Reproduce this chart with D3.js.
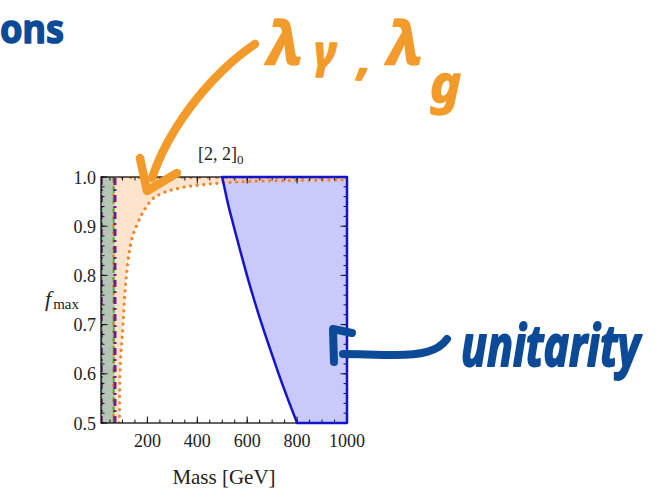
<!DOCTYPE html>
<html>
<head>
<meta charset="utf-8">
<script src="https://cdn.jsdelivr.net/npm/d3@7"></script>
<style>
  html, body { margin: 0; padding: 0; background: #ffffff; }
  svg { display: block; }
</style>
</head>
<body>
<svg id="chart" width="658" height="494"></svg>
<script>
// ---- data ----
const panelTitle = "[2, 2]";
const panelTitleSub = "0";
const xTickValues = [200, 400, 600, 800, 1000];
const yTickValues = [0.5, 0.6, 0.7, 0.8, 0.9, 1.0];

// unitarity bound: f_max vs mass (excluded to the right)
const unitarityMass = [500, 521, 546, 572, 599, 628, 659, 692, 726, 762, 800];
const unitarityF    = [1.0, 0.95, 0.90, 0.85, 0.80, 0.75, 0.70, 0.65, 0.60, 0.55, 0.50];

// photon / gluon coupling bound (lower edge of the shaded band)
const couplingMass = [88, 90, 100, 108, 116, 136, 156, 190, 220, 260, 324, 416, 508, 600, 800, 1000];
const couplingF    = [0.5, 0.6, 0.68, 0.75, 0.80, 0.87, 0.90, 0.935, 0.955, 0.967, 0.977, 0.984, 0.988, 0.991, 0.993, 0.994];
const couplingInnerMass = 64;

// low-mass exclusions (vertical bounds)
const lowMassBand = [14, 68];
const greenBounds = [16, 65];
const purpleBounds = [15, 70];

// ---- scales ----
const svg = d3.select("#chart");
const x = d3.scaleLinear().domain([14, 1000]).range([101, 347]);
const y = d3.scaleLinear().domain([0.5, 1.0]).range([423, 177]);
const [x0, x1] = x.range();
const [y0, y1] = y.range();
const serif = "'Liberation Serif', 'DejaVu Serif', serif";

const clip = svg.append("defs").append("clipPath").attr("id", "plotClip");
clip.append("rect").attr("x", x0).attr("y", y1).attr("width", x1 - x0).attr("height", y0 - y1);
const plot = svg.append("g").attr("clip-path", "url(#plotClip)");

const unitarityPts = unitarityMass.map((m, i) => [m, unitarityF[i]]);
const couplingPts = couplingMass.map((m, i) => [m, couplingF[i]]);

const line = d3.line().x(d => x(d[0])).y(d => y(d[1])).curve(d3.curveMonotoneX);

// unitarity excluded region: curve, bottom edge, right edge, top edge
const uniPoly = "M" + line(unitarityPts).slice(1) +
  "L" + x(1000) + "," + y(0.5) + "L" + x(1000) + "," + y(1.0) + "Z";
plot.append("path").attr("d", uniPoly).attr("fill", "#c9c9fa").attr("stroke", "none");

// coupling band: from the low-mass edge up to f = 1, above the lower curve
const bandPath = "M" + x(lowMassBand[0]) + "," + y(0.5) +
  "L" + line(couplingPts).slice(1) +
  "L" + x(1000) + "," + y(1.0) + "L" + x(lowMassBand[0]) + "," + y(1.0) + "Z";
plot.append("path").attr("d", bandPath).attr("fill", "#fcc596").attr("fill-opacity", 0.48);

// low-mass excluded strip
plot.append("rect")
  .attr("x", x(lowMassBand[0])).attr("y", y1)
  .attr("width", x(lowMassBand[1]) - x(lowMassBand[0]))
  .attr("height", y0 - y1)
  .attr("fill", "#b5c6b7");

// coupling curves (dotted)
const orange = "#f0862c";
plot.append("path").attr("d", line(couplingPts))
  .attr("fill", "none").attr("stroke", orange).attr("stroke-width", 3.2)
  .attr("stroke-linecap", "round").attr("stroke-dasharray", "0.1 6.5");
plot.append("line")
  .attr("x1", x(couplingInnerMass)).attr("x2", x(couplingInnerMass))
  .attr("y1", y(0.5)).attr("y2", y(1.0))
  .attr("stroke", orange).attr("stroke-width", 3).attr("stroke-linecap", "round")
  .attr("stroke-dasharray", "0.1 7.5");
plot.append("line")
  .attr("x1", x(couplingInnerMass)).attr("x2", x(1000))
  .attr("y1", y(0.999)).attr("y2", y(0.999))
  .attr("stroke", orange).attr("stroke-width", 3).attr("stroke-linecap", "round")
  .attr("stroke-dasharray", "0.1 8.5");

// green dashed bounds
greenBounds.forEach(m => {
  plot.append("line")
    .attr("x1", x(m)).attr("x2", x(m)).attr("y1", y0).attr("y2", y1)
    .attr("stroke", "#3fb84a").attr("stroke-width", 2)
    .attr("stroke-dasharray", "6 4");
});
// purple dash-dot bounds
purpleBounds.forEach(m => {
  plot.append("line")
    .attr("x1", x(m)).attr("x2", x(m)).attr("y1", y0).attr("y2", y1)
    .attr("stroke", "#7a1a86").attr("stroke-width", 3)
    .attr("stroke-dasharray", "7 4 2 4");
});

// ---- frame and ticks ----
const frame = svg.append("g");
frame.append("rect")
  .attr("x", x0).attr("y", y1).attr("width", x1 - x0).attr("height", y0 - y1)
  .attr("fill", "none").attr("stroke", "#111").attr("stroke-width", 1.3);

// unitarity boundary line (drawn over the frame)
svg.append("path").attr("d", uniPoly)
  .attr("fill", "none").attr("stroke", "#1414cc").attr("stroke-width", 2.5)
  .attr("stroke-linejoin", "round");

const xMinor = d3.range(50, 1001, 50);
const yMinor = d3.range(0.5, 1.0001, 0.02);
function tickGroup(vals, scale, len, orient) {
  vals.forEach(v => {
    const p = scale(v);
    if (orient === "bottom") frame.append("line").attr("x1", p).attr("x2", p).attr("y1", y0).attr("y2", y0 - len);
    if (orient === "top") frame.append("line").attr("x1", p).attr("x2", p).attr("y1", y1).attr("y2", y1 + len);
    if (orient === "left") frame.append("line").attr("y1", p).attr("y2", p).attr("x1", x0).attr("x2", x0 + len);
    if (orient === "right") frame.append("line").attr("y1", p).attr("y2", p).attr("x1", x1).attr("x2", x1 - len);
  });
}
tickGroup(xMinor.filter(v => v > 14), x, 3.5, "bottom");
tickGroup(xMinor.filter(v => v > 14), x, 3.5, "top");
tickGroup(xTickValues, x, 6.5, "bottom");
tickGroup(xTickValues, x, 6.5, "top");
tickGroup(yMinor, y, 3.5, "left");
tickGroup(yMinor, y, 3.5, "right");
tickGroup(yTickValues, y, 6.5, "left");
tickGroup(yTickValues, y, 6.5, "right");
frame.selectAll("line").attr("stroke", "#111").attr("stroke-width", 1);

// tick labels
const fmtY = d3.format(".1f");
svg.append("g").selectAll("text").data(yTickValues).join("text")
  .attr("x", 96).attr("y", d => y(d) + 6.5)
  .attr("text-anchor", "end")
  .style("font-family", serif).style("font-size", "18px").attr("fill", "#222")
  .text(d => fmtY(d));
svg.append("g").selectAll("text").data(xTickValues).join("text")
  .attr("x", d => x(d)).attr("y", 447)
  .attr("text-anchor", "middle")
  .style("font-family", serif).style("font-size", "18px").attr("fill", "#222")
  .text(d => d);

// title
const t = svg.append("text").attr("x", 198).attr("y", 160)
  .style("font-family", serif).style("font-size", "18px").attr("fill", "#222");
t.append("tspan").text(panelTitle);
t.append("tspan").attr("dy", 4).style("font-size", "13px").text(panelTitleSub);

// axis labels
const yl = svg.append("text").attr("x", 45).attr("y", 306)
  .style("font-family", serif).attr("fill", "#222");
yl.append("tspan").style("font-style", "italic").style("font-size", "22px").text("f");
yl.append("tspan").attr("dx", 2).attr("dy", 3).style("font-size", "15px").text("max");

svg.append("text").attr("x", 224).attr("y", 484).attr("text-anchor", "middle")
  .style("font-family", serif).style("font-size", "21px").attr("fill", "#222")
  .text("Mass [GeV]");

// ---- hand-drawn annotations ----
const ink = svg.append("g").attr("fill", "none").attr("stroke-linecap", "round").attr("stroke-linejoin", "round");
const orangeInk = "#f39b2a";
const blueInk = "#0c4a97";

// arrow pointing at the coupling band
ink.append("path")
  .attr("d", "M255,44 C225,64 196,96 176,128 C166,144 158,160 152,178")
  .attr("stroke", orangeInk).attr("stroke-width", 8.5);
ink.append("path")
  .attr("d", "M140,158 L147,191 L177,173")
  .attr("stroke", orangeInk).attr("stroke-width", 8.5);

// arrow pointing at the unitarity region
ink.append("path")
  .attr("d", "M447,339 C438,352 420,355 395,355 C375,355 360,354 343,354")
  .attr("stroke", blueInk).attr("stroke-width", 8);
ink.append("path")
  .attr("d", "M352,333 L333,329 L334,362")
  .attr("stroke", blueInk).attr("stroke-width", 8);

const hand = "'Noto Sans', 'DejaVu Sans', sans-serif";
function handText(txt, px, py, size, color, sw) {
  return svg.append("text").attr("x", px).attr("y", py)
    .style("font-family", hand).style("font-style", "italic").style("font-weight", "bold")
    .style("font-size", size + "px")
    .attr("fill", color).attr("stroke", color).attr("stroke-width", sw)
    .attr("stroke-linejoin", "round")
    .text(txt);
}
// coupling label: λγ, λg
handText("λ", 268, 64, 60, orangeInk, 1.5);
handText("γ", 314, 68, 44, orangeInk, 1.5);
handText(",", 358, 74, 46, orangeInk, 1.5);
handText("λ", 388, 64, 60, orangeInk, 1.5);
handText("g", 430, 102, 52, orangeInk, 1.5);

// unitarity label, stretched vertically like the handwriting
handText("unitarity", 0, 0, 43, blueInk, 1.5)
  .attr("transform", "translate(461,366) scale(1,1.35)");

handText("ons", 0, 43, 40, blueInk, 1.5)
  .style("font-style", "normal")
  .attr("textLength", 64).attr("lengthAdjust", "spacingAndGlyphs");
</script>
</body>
</html>
